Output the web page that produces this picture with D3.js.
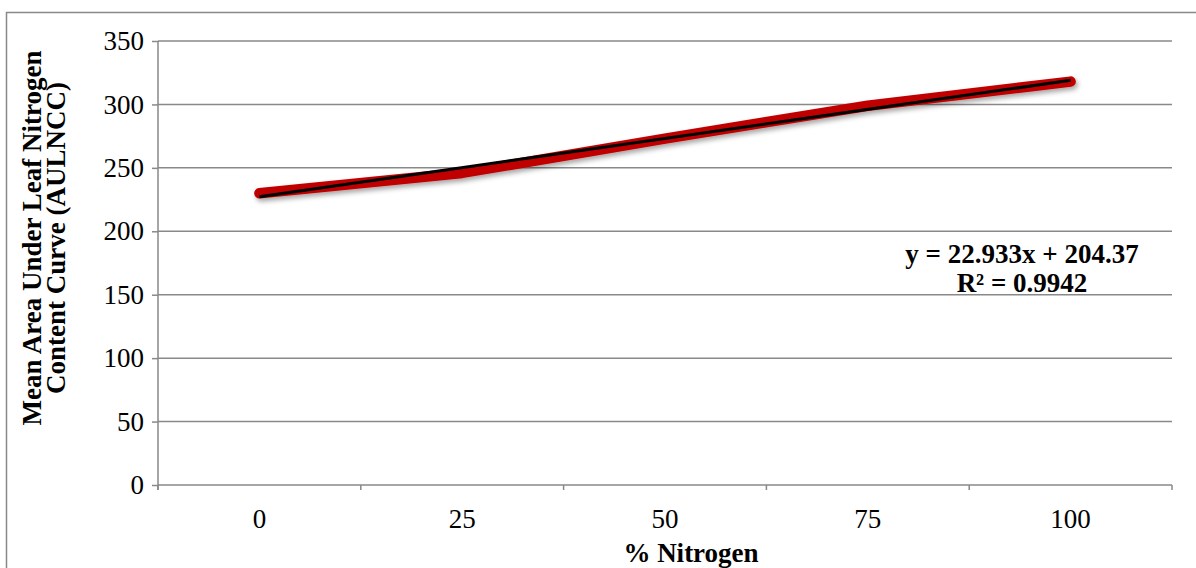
<!DOCTYPE html>
<html>
<head>
<meta charset="utf-8">
<script src="https://cdn.jsdelivr.net/npm/d3@7/dist/d3.min.js"></script>
<style>
  html, body { margin: 0; padding: 0; background: #fff; }
  svg { display: block; }
  text { font-family: "Liberation Serif", "Times New Roman", serif; fill: #000; }
</style>
</head>
<body>
<svg id="chart" width="1196" height="568"></svg>
<script>
// ---- data ----
const categories = ["0", "25", "50", "75", "100"];
const seriesValues = [230, 246, 273, 299, 318];
const yTicks = [0, 50, 100, 150, 200, 250, 300, 350];
const trendSlope = 22.933;
const trendIntercept = 204.37;
const equationLines = ["y = 22.933x + 204.37", "R² = 0.9942"];
const xTitle = "% Nitrogen";
const yTitleLines = ["Mean Area Under Leaf Nitrogen", "Content Curve (AULNCC)"];

// ---- layout ----
const plot = { left: 158, right: 1172, top: 41, bottom: 485 };
const gridColor = "#898989";
const fs = "27px";

const svg = d3.select("#chart");

const defs = svg.append("defs");
const f = defs.append("filter").attr("id", "shadow")
  .attr("x", "-10%").attr("y", "-50%").attr("width", "120%").attr("height", "200%");
f.append("feDropShadow").attr("dx", 2).attr("dy", 3).attr("stdDeviation", 2.5)
  .attr("flood-color", "#000").attr("flood-opacity", 0.35);

// outer frame (extends past right/bottom edges)
svg.append("rect")
  .attr("x", 6.5).attr("y", 12.5).attr("width", 1250).attr("height", 650)
  .attr("fill", "none").attr("stroke", gridColor).attr("stroke-width", 1.5);

const x = d3.scaleBand().domain(categories).range([plot.left, plot.right]).padding(0);
const y = d3.scaleLinear().domain([0, 350]).range([plot.bottom, plot.top]);
const xc = d => x(d) + x.bandwidth() / 2;

// gridlines
svg.append("g").selectAll("line").data(yTicks.filter(t => t > 0)).join("line")
  .attr("x1", plot.left).attr("x2", plot.right)
  .attr("y1", d => y(d)).attr("y2", d => y(d))
  .attr("stroke", gridColor).attr("stroke-width", 1.5);

// y axis
const yAxis = svg.append("g").attr("transform", `translate(${plot.left},0)`)
  .call(d3.axisLeft(y).tickValues(yTicks).tickSize(6).tickPadding(8).tickFormat(d3.format("d")));
yAxis.select(".domain").attr("stroke", gridColor).attr("stroke-width", 1.5)
  .attr("d", `M0,${plot.top}V${plot.bottom + 5}`);
yAxis.selectAll(".tick line").attr("stroke", gridColor).attr("stroke-width", 1.5);
yAxis.selectAll(".tick text").style("font-size", fs).attr("dy", "0.32em");

// x axis
const xAxis = svg.append("g").attr("transform", `translate(0,${plot.bottom})`)
  .call(d3.axisBottom(x).tickSize(0).tickPadding(21));
xAxis.select(".domain").attr("stroke", gridColor).attr("stroke-width", 1.5)
  .attr("d", `M${plot.left},0H${plot.right}`);
xAxis.selectAll(".tick text").style("font-size", fs).attr("dy", "0.8em");
// boundary ticks
const bounds = categories.map(c => x(c)).concat([plot.right]);
svg.append("g").selectAll("line").data(bounds).join("line")
  .attr("x1", d => d).attr("x2", d => d)
  .attr("y1", plot.bottom).attr("y2", plot.bottom + 5)
  .attr("stroke", gridColor).attr("stroke-width", 1.5);

// data line
const pts = categories.map((c, i) => [xc(c), y(seriesValues[i])]);
svg.append("path")
  .attr("d", d3.line()(pts))
  .attr("fill", "none").attr("stroke", "#c00000").attr("stroke-width", 10.5)
  .attr("stroke-linecap", "round").attr("stroke-linejoin", "round")
  .attr("filter", "url(#shadow)");

// trendline (x = 1..n)
const xLin = d3.scaleLinear().domain([1, categories.length])
  .range([xc(categories[0]), xc(categories[categories.length - 1])]);
const tx = [1, categories.length];
svg.append("path")
  .attr("d", d3.line()(tx.map(t => [xLin(t), y(trendSlope * t + trendIntercept)])))
  .attr("fill", "none").attr("stroke", "#000").attr("stroke-width", 3);

// equation
const eq = svg.append("text").attr("text-anchor", "middle")
  .style("font-size", fs).style("font-weight", "bold");
eq.selectAll("tspan").data(equationLines).join("tspan")
  .attr("x", 1022).attr("y", (d, i) => 263 + i * 29).text(d => d);

// x title
svg.append("text").attr("x", 691).attr("y", 562)
  .attr("text-anchor", "middle").style("font-size", fs).style("font-weight", "bold")
  .text(xTitle);

// y title
const yt = svg.append("text").attr("transform", "translate(0,238) rotate(-90)")
  .attr("text-anchor", "middle").style("font-size", fs).style("font-weight", "bold");
yt.selectAll("tspan").data(yTitleLines).join("tspan")
  .attr("x", 0).attr("y", (d, i) => 41 + i * 24).text(d => d);
</script>
</body>
</html>
